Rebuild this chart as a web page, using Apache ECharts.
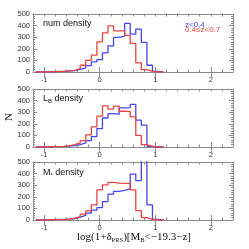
<!DOCTYPE html>
<html><head><meta charset="utf-8">
<script src="https://cdn.jsdelivr.net/npm/echarts@6/dist/echarts.min.js"></script>
<style>html,body{margin:0;padding:0;background:#fff}#c{width:249px;height:249px}</style>
</head><body><div id="c"></div>
<script>
// ---- data ----
const binCenters = [-1.1,-1.0,-0.9,-0.8,-0.7,-0.6,-0.5,-0.4,-0.3,-0.2,-0.1,0.0,0.1,0.2,0.3,0.4,0.5,0.6,0.7,0.8,0.9,1.0,1.1];
const binWidth = 0.1;
const numLowZ  = [0,0,2,3,5,8,12,22,35,55,87,107,165,225,298,309,419,327,370,255,58,6,0];
const numHighZ = [0,0,2,5,5,10,14,29,58,101,145,260,338,398,355,355,315,246,78,20,5,0,0];
const lumLowZ  = [0,0,2,3,5,8,12,20,35,55,90,159,250,288,283,338,340,367,231,188,6,0,0];
const lumHighZ = [0,0,2,4,6,10,20,35,55,105,173,266,355,327,352,308,305,260,100,20,6,0,0];
const massLowZ = [0,0,2,5,5,8,12,25,40,60,85,107,159,223,246,255,268,396,340,520,130,6,0];
const massHighZ= [0,0,2,4,5,8,15,30,50,78,130,260,303,325,318,315,315,260,80,20,5,0,0];
const xMajorTicks = [-1,0,1,2];
const panelLabels = [['num density'],['L','B',' density'],['M','*',' density']];
const legendLow = 'z<0.4';
const legendHigh = '0.4\u2264z<0.7';

// ---- layout ----
const BLUE = '#4646f0', RED = '#e84444', AX = '#8a8a8a';
const SANS = '"Liberation Sans", Arial, sans-serif';
const SERIF = '"Liberation Serif", "Times New Roman", serif';
const tops = [14, 89, 162];
const H = 58, L = 33, W = 200;

function stepData(vals){
  const pts = [];
  for (let i=0;i<vals.length;i++) pts.push([binCenters[i]-binWidth/2, vals[i]]);
  const n = vals.length-1;
  pts.push([binCenters[n]+binWidth/2, vals[n]]);
  return pts;
}
const panels = [[numLowZ,numHighZ],[lumLowZ,lumHighZ],[massLowZ,massHighZ]];

const grid=[], xAxis=[], yAxis=[], series=[];
panels.forEach((p,g)=>{
  grid.push({left:L, top:tops[g], width:W, height:H, containLabel:false});
  const base = {gridIndex:g, type:'value', min:-1.2, max:2.4, splitLine:{show:false}};
  xAxis.push(Object.assign({}, base, {position:'bottom', interval:0.2,
    axisLine:{show:true,onZero:false,lineStyle:{color:AX,width:1}},
    axisTick:{show:true,inside:true,length:2.5,lineStyle:{color:AX}},
    axisLabel:{fontSize:7.5,color:'#333',fontFamily:SANS,margin:4,
      formatter:v=>{const r=Math.round(v);return Math.abs(v-r)<1e-6?String(r):'';}}}));
  xAxis.push(Object.assign({}, base, {position:'top', interval:0.2,
    axisLine:{show:true,onZero:false,lineStyle:{color:AX,width:1}},
    axisTick:{show:true,inside:true,length:2.5,lineStyle:{color:AX}},
    axisLabel:{show:false}}));
  xAxis.push(Object.assign({}, base, {position:'bottom', interval:0.2,
    axisLine:{show:false},
    axisTick:{show:true,inside:true,length:5,customValues:xMajorTicks,lineStyle:{color:AX}},
    axisLabel:{show:false}}));
  xAxis.push(Object.assign({}, base, {position:'top', interval:0.2,
    axisLine:{show:false},
    axisTick:{show:true,inside:true,length:5,customValues:xMajorTicks,lineStyle:{color:AX}},
    axisLabel:{show:false}}));
  const yb = {gridIndex:g, type:'value', min:0, max:500, interval:100, splitLine:{show:false},
    axisLine:{show:true,onZero:false,lineStyle:{color:AX,width:1}},
    axisTick:{show:true,inside:true,length:4,lineStyle:{color:AX}},
    minorTick:{show:true,splitNumber:5,length:2,lineStyle:{color:AX}},
    minorSplitLine:{show:false}};
  yAxis.push(Object.assign({}, yb, {position:'left',
    axisLabel:{fontSize:7.5,color:'#333',fontFamily:SANS,margin:3}}));
  yAxis.push(Object.assign({}, yb, {position:'right', axisLabel:{show:false}}));
  [[p[0],BLUE],[p[1],RED]].forEach(([vals,col])=>{
    series.push({type:'line', xAxisIndex:g*4, yAxisIndex:g*2, step:'end', symbol:'none',
      data:stepData(vals), clip:true, lineStyle:{color:col,width:1.3}, itemStyle:{color:col},
      silent:true, animation:false});
  });
});

// text helper with sub-scripts
const ctx = document.createElement('canvas').getContext('2d');
function segs(parts, x, y, family, center, fill){
  let tot=0; const ws=[];
  parts.forEach(p=>{ctx.font=p.size+'px '+family; const w=ctx.measureText(p.t).width; ws.push(w); tot+=w;});
  let cx = center ? x - tot/2 : x;
  return parts.map((p,i)=>{
    const el = {type:'text', x:cx, y:y+(p.dy||0), silent:true,
      style:{text:p.t, font:p.size+'px '+family, fill:fill||'#111', align:'left', verticalAlign:'middle'}};
    cx += ws[i]; return el;
  });
}
let graphic = [];
graphic = graphic.concat(segs([{t:panelLabels[0][0],size:9}], 43, 24, SANS, false));
graphic = graphic.concat(segs([{t:panelLabels[1][0],size:9},{t:panelLabels[1][1],size:6,dy:2.5},{t:panelLabels[1][2],size:9}], 43, 99, SANS, false));
graphic = graphic.concat(segs([{t:panelLabels[2][0],size:9},{t:panelLabels[2][1],size:6,dy:2.5},{t:panelLabels[2][2],size:9}], 43, 173, SANS, false));
graphic = graphic.concat(segs([{t:legendLow,size:8}], 185, 24.5, SANS, false, BLUE));
graphic = graphic.concat(segs([{t:legendHigh,size:8}], 185, 30, SANS, false, RED));
graphic = graphic.concat(segs([
  {t:'log(1+\u03b4',size:11},{t:'PRS',size:6.5,dy:2.5},{t:')[M',size:11},{t:'B',size:6.5,dy:2.5},
  {t:'<\u221219.3\u2212z]',size:11}], 134, 237.5, SERIF, true));
graphic.push({type:'text', x:9, y:117, rotation:Math.PI/2, silent:true,
  style:{text:'N', font:'11px '+SERIF, fill:'#111', align:'center', verticalAlign:'middle'}});

const chart = echarts.init(document.getElementById('c'), null, {renderer:'canvas'});
chart.setOption({animation:false, grid, xAxis, yAxis, series, graphic});
</script>
</body></html>
